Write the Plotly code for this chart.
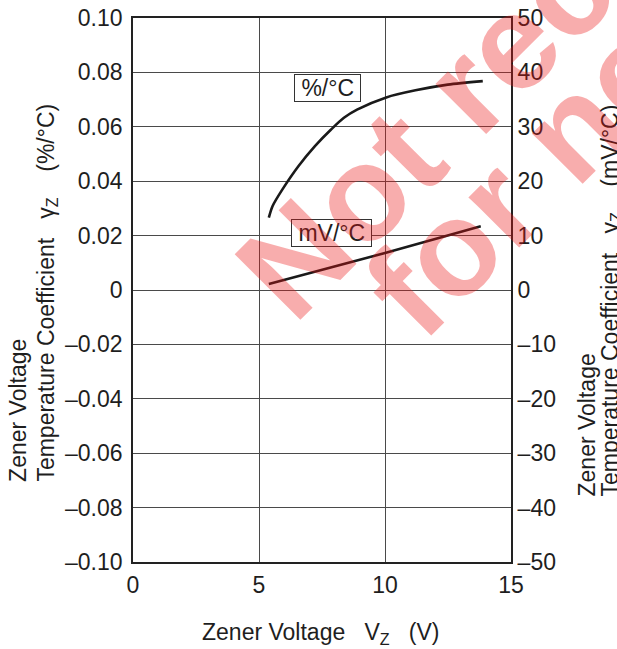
import plotly.graph_objects as go

# ---- data ----
vz_pct = [5.39, 5.54, 5.93, 6.57, 7.22, 7.86, 8.37, 8.89, 10.05, 11.21, 12.49, 13.88]
tc_pct = [0.0266, 0.0309, 0.0370, 0.0456, 0.0529, 0.0590, 0.0633, 0.0663, 0.0708, 0.0734, 0.0755, 0.0768]

vz_mv = [5.39, 10.0, 13.8]
tc_mv = [1.1, 6.8, 11.7]

x_tick_vals = [0, 5, 10, 15]
x_tick_text = ["0", "5", "10", "15"]
y_left_vals = [0.10, 0.08, 0.06, 0.04, 0.02, 0, -0.02, -0.04, -0.06, -0.08, -0.10]
y_left_text = ["0.10", "0.08", "0.06", "0.04", "0.02", "0", "–0.02", "–0.04", "–0.06", "–0.08", "–0.10"]
y_right_vals = [50, 40, 30, 20, 10, 0, -10, -20, -30, -40, -50]
y_right_text = ["50", "40", "30", "20", "10", "0", "–10", "–20", "–30", "–40", "–50"]

label_pct = "%/°C"
label_mv = "mV/°C"
watermark_lines = ["Not recommended", "for new design"]

NB = "\u00a0"
FONT = "Arial, Liberation Sans, Helvetica, sans-serif"
TXT = "#1e1e1e"
FS = 23

# figure geometry (pixels)
W, H = 617, 649
L, R, T, B = 133, 106, 18, 87
PW, PH = W - L - R, H - T - B


def px(xp):
    return (xp - L) / PW


def py(yp):
    return (H - B - yp) / PH


fig = go.Figure()
fig.add_trace(go.Scatter(
    x=vz_pct, y=tc_pct, mode="lines", line=dict(color="#1a1a1a", width=2.6, shape="spline", smoothing=0.8),
    yaxis="y", showlegend=False, hoverinfo="skip"))
fig.add_trace(go.Scatter(
    x=vz_mv, y=tc_mv, mode="lines", line=dict(color="#1a1a1a", width=2.6),
    yaxis="y2", showlegend=False, hoverinfo="skip"))

annotations = []
# curve labels
annotations.append(dict(x=7.71, y=0.0742, xref="x", yref="y", text=NB + label_pct + NB, showarrow=False,
                        font=dict(family=FONT, size=FS, color=TXT), bgcolor="white",
                        bordercolor="#333", borderwidth=1, borderpad=0))
annotations.append(dict(x=7.88, y=0.0211, xref="x", yref="y", text=NB + label_mv + NB, showarrow=False,
                        font=dict(family=FONT, size=FS, color=TXT), bgcolor="white",
                        bordercolor="#333", borderwidth=1, borderpad=0))

# x axis title
annotations.append(dict(x=px(320.8), y=py(633.5), xref="paper", yref="paper", xanchor="center", yanchor="middle",
                        text="Zener Voltage" + NB * 3 + "V<sub>Z</sub>" + NB * 3 + "(V)", showarrow=False,
                        font=dict(family=FONT, size=FS, color=TXT)))


# y titles (rotated, two lines each, starting from the bottom)
def ytitle(xc, ybottom, text):
    annotations.append(dict(x=px(xc), y=py(ybottom), xref="paper", yref="paper", xanchor="center",
                            yanchor="bottom", textangle=-90, text=text, showarrow=False,
                            font=dict(family=FONT, size=FS, color=TXT)))


ytitle(17.4, 484, "Zener Voltage")
ytitle(46.6, 484, "Temperature Coefficient" + NB * 3 + "γ<sub>Z</sub>" + NB * 4 + "(%/°C)")
ytitle(586.0, 499, "Zener Voltage")
ytitle(610.5, 499, "Temperature Coefficient" + NB * 3 + "γ<sub>Z</sub>" + NB * 4 + "(mV/°C)")

# watermark
WM_FS = 135
WM_COLOR = "rgba(235,20,20,0.35)"
annotations.append(dict(x=px(680.3), y=py(-125.0), xref="paper", yref="paper", xanchor="center", yanchor="middle",
                        textangle=-45, text=watermark_lines[0], showarrow=False,
                        font=dict(family=FONT, size=WM_FS, color=WM_COLOR, weight="bold")))
annotations.append(dict(x=px(726.5), y=py(-25.3), xref="paper", yref="paper", xanchor="center", yanchor="middle",
                        textangle=-45, text=watermark_lines[1], showarrow=False,
                        font=dict(family=FONT, size=WM_FS, color=WM_COLOR, weight="bold")))

axis_common = dict(showgrid=True, gridcolor="#4a4a4a", gridwidth=1, zeroline=False,
                   showline=True, linecolor="#222", linewidth=1.6, mirror=True,
                   automargin=False, tickcolor="rgba(0,0,0,0)", ticks="outside",
                   tickfont=dict(family=FONT, size=FS, color=TXT))

fig.update_layout(
    width=W, height=H, autosize=False,
    margin=dict(l=L, r=R, t=T, b=B, pad=0, autoexpand=False),
    paper_bgcolor="white", plot_bgcolor="white",
    font=dict(family=FONT, size=FS, color=TXT),
    xaxis=dict(range=[0, 15], tickvals=x_tick_vals, ticktext=x_tick_text, ticklen=2, **axis_common),
    yaxis=dict(range=[-0.1, 0.1], tickvals=y_left_vals, ticktext=y_left_text, ticklen=4, **axis_common),
    yaxis2=dict(range=[-50, 50], tickvals=y_right_vals, ticktext=y_right_text,
                overlaying="y", side="right", showgrid=False, zeroline=False,
                showline=False, ticks="outside", ticklen=1, tickcolor="rgba(0,0,0,0)",
                automargin=False, tickfont=dict(family=FONT, size=FS, color=TXT)),
    annotations=annotations,
)

fig.write_html("out.html", config={"displayModeBar": False},
               post_script="document.body.style.margin='0';document.body.style.overflow='hidden';")
